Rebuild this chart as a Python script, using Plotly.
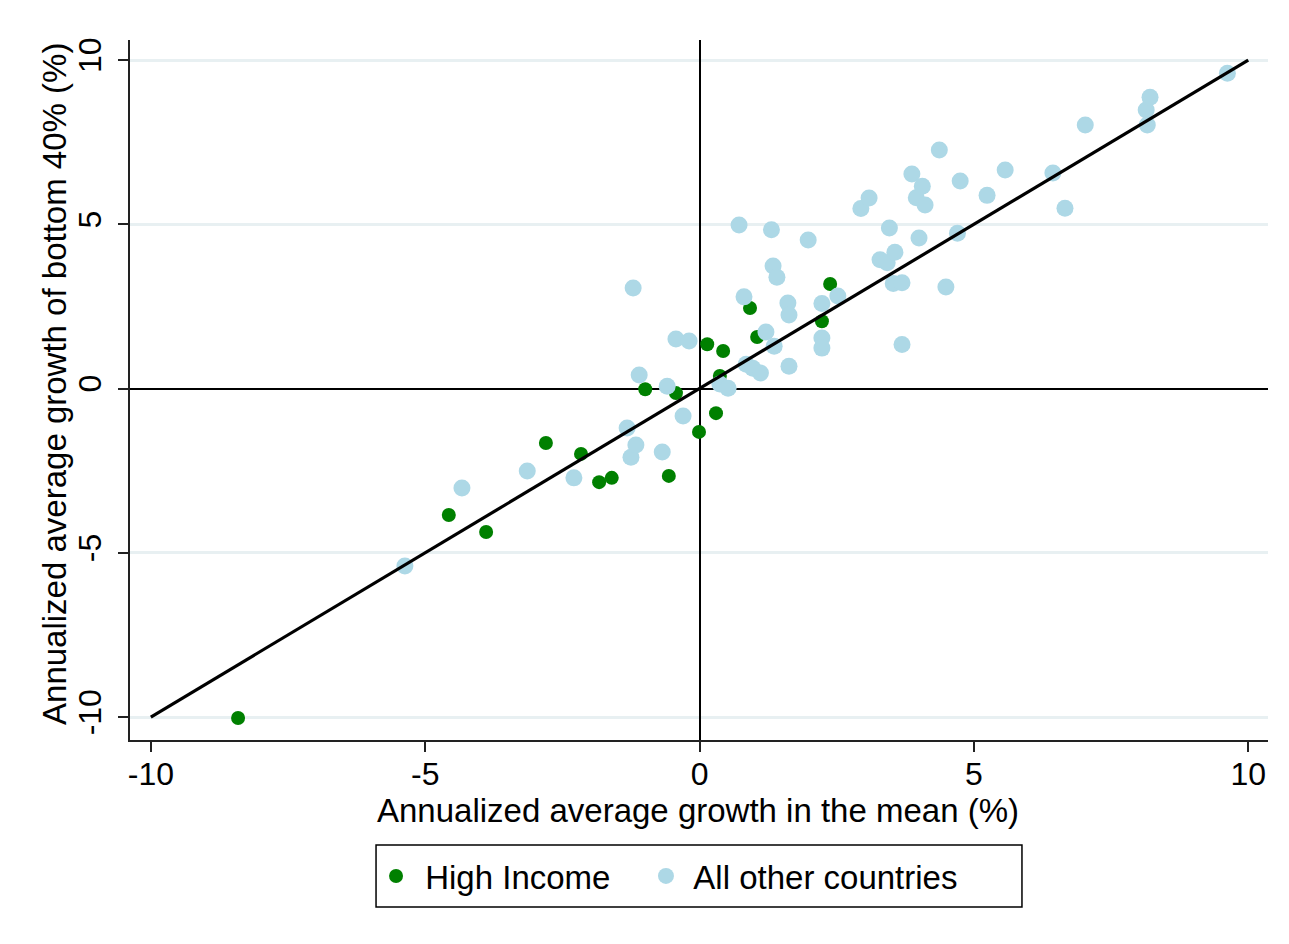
import plotly.graph_objects as go

# High Income countries
hi_mean = [-8.41, -4.57, -3.89, -2.80, -2.16, -1.83, -1.60, -0.99, -0.56, -0.43,
           -0.01, 0.14, 0.30, 0.37, 0.43, 0.92, 1.05, 2.23, 2.38]
hi_b40 = [-10.03, -3.85, -4.37, -1.66, -1.99, -2.85, -2.72, -0.02, -2.66, -0.14,
          -1.32, 1.35, -0.75, 0.38, 1.14, 2.45, 1.57, 2.05, 3.18]

# All other countries
oth_mean = [-5.37, -4.33, -3.14, -2.29, -1.32, -1.25, -1.16, -1.21, -1.10, -0.68,
            -0.59, -0.43, -0.19, -0.30, 0.37, 0.52, 0.72, 0.81, 0.85, 0.97,
            1.11, 1.21, 1.31, 1.34, 1.41, 1.36, 1.61, 1.63, 1.63, 1.98,
            2.23, 2.23, 2.23, 2.52, 2.94, 3.09, 3.29, 3.42, 3.46, 3.53,
            3.56, 3.69, 3.69, 3.87, 3.95, 4.00, 4.06, 4.11, 4.37, 4.49,
            4.70, 4.75, 5.24, 5.57, 6.44, 6.66, 7.03, 8.14, 8.16, 8.21, 9.62]
oth_b40 = [-5.40, -3.03, -2.51, -2.72, -1.20, -2.09, -1.72, 3.06, 0.41, -1.93,
           0.07, 1.51, 1.45, -0.84, 0.14, 0.01, 4.98, 2.79, 0.74, 0.62,
           0.47, 1.72, 4.83, 3.73, 3.39, 1.29, 2.60, 2.24, 0.68, 4.52,
           2.59, 1.54, 1.23, 2.82, 5.48, 5.80, 3.92, 3.83, 4.89, 3.20,
           4.15, 3.22, 1.34, 6.53, 5.81, 4.58, 6.16, 5.59, 7.26, 3.09,
           4.73, 6.32, 5.88, 6.65, 6.56, 5.49, 8.02, 8.48, 8.02, 8.87, 9.60]

diag = [-10, 10]
tick_vals = [-10, -5, 0, 5, 10]
tick_text = ["-10", "-5", "0", "5", "10"]
x_title = "Annualized average growth in the mean (%)"
y_title = "Annualized average growth of bottom 40% (%)"

FONT = "Liberation Sans, Arial, Helvetica, sans-serif"

fig = go.Figure()
fig.add_trace(go.Scatter(x=hi_mean, y=hi_b40, mode="markers", name=" High Income",
                         legend="legend",
                         marker=dict(color="#008000", size=14, line=dict(width=0))))
fig.add_trace(go.Scatter(x=oth_mean, y=oth_b40, mode="markers", name=" All other countries",
                         legend="legend2",
                         marker=dict(color="#add8e6", size=17, line=dict(width=0))))
fig.add_trace(go.Scatter(x=diag, y=diag, mode="lines", showlegend=False,
                         line=dict(color="black", width=3.2)))

leg_common = dict(orientation="h", y=-0.1943, yanchor="middle", xanchor="left",
                  borderwidth=0, bgcolor="rgba(0,0,0,0)",
                  font=dict(size=33), itemsizing="trace", itemwidth=30)

fig.update_layout(
    width=1281, height=936,
    margin=dict(l=122, r=21, t=32, b=204),
    paper_bgcolor="white", plot_bgcolor="white",
    font=dict(family=FONT, size=32, color="black"),
    legend=dict(x=0.2162, **leg_common),
    legend2=dict(x=0.4534, **leg_common),
    shapes=[dict(type="rect", xref="paper", yref="paper",
                 x0=0.2162, x1=0.7838, y0=-0.2386, y1=-0.15,
                 line=dict(color="black", width=1.5), layer="below")],
    annotations=[
        dict(text=x_title, xref="paper", yref="paper", x=0.499, y=-0.1,
             xanchor="center", yanchor="middle", showarrow=False, font=dict(size=33)),
        dict(text=y_title, xref="paper", yref="paper", x=-0.0659, y=0.5086,
             xanchor="center", yanchor="middle", textangle=-90, showarrow=False,
             font=dict(size=33)),
    ],
    xaxis=dict(range=[-10.38, 10.36], tickvals=tick_vals, ticktext=tick_text,
               showgrid=False, zeroline=True, zerolinecolor="black", zerolinewidth=1.5,
               showline=True, linecolor="#222", linewidth=2,
               ticks="outside", ticklen=10, tickwidth=2, tickcolor="#222",
               ticklabelstandoff=-5),
    yaxis=dict(range=[-10.70, 10.61], tickvals=tick_vals, ticktext=tick_text, tickangle=-90,
               showgrid=True, gridcolor="#e8f0f2", gridwidth=2.5,
               zeroline=True, zerolinecolor="black", zerolinewidth=1.5,
               showline=True, linecolor="#222", linewidth=2,
               ticks="outside", ticklen=10, tickwidth=2, tickcolor="#222",
               ticklabelstandoff=4),
)

fig.write_html("out.html")
